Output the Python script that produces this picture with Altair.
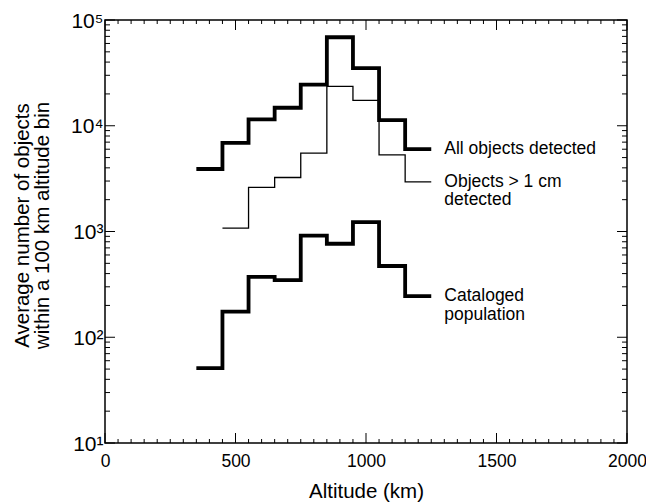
import altair as alt
import pandas as pd

# ---- data ----
edges = [350, 450, 550, 650, 750, 850, 950, 1050, 1150, 1250]
all_objects = [3900, 6900, 11500, 14800, 24500, 68700, 35100, 11300, 6000]
cm_edges = [450, 550, 650, 750, 850, 950, 1050, 1150, 1250]
objects_1cm = [1075, 2610, 3240, 5500, 23600, 17400, 5300, 2950]
cataloged = [51, 175, 372, 347, 913, 766, 1225, 472, 245]

label_text = ["All objects detected", "Objects > 1 cm", "detected", "Cataloged", "population"]
label_x = [1300, 1300, 1300, 1300, 1300]
label_y = [6000, 2950, 1970, 245, 164]

x_major = [0, 500, 1000, 1500, 2000]
x_minor = [v for v in range(50, 2000, 50) if v % 500 != 0]
y_major = [10, 100, 1000, 10000, 100000]
y_minor = [m * 10 ** e for e in range(1, 5) for m in range(2, 10)]

FONT = "Liberation Sans"
W, H = 522, 423


def steps(name, e, vals):
    rows = [{"series": name, "alt": e[i], "val": v} for i, v in enumerate(vals)]
    rows.append({"series": name, "alt": e[len(vals)], "val": vals[-1]})
    return rows


df = pd.DataFrame(
    steps("all", edges, all_objects)
    + steps("cm", cm_edges, objects_1cm)
    + steps("cat", edges, cataloged)
)
labels = pd.DataFrame({"text": label_text, "alt": label_x, "val": label_y})

xs = alt.Scale(domain=[0, 2000], nice=False, zero=False)
ys = alt.Scale(type="log", domain=[10, 100000], nice=False)

x_axis = alt.Axis(
    orient="bottom", values=x_major, ticks=False, domain=False, grid=False,
    format="d", labelFontSize=17.5, labelFont=FONT, labelColor="black",
    labelPadding=9, labelFlush=False, labelOverlap=False,
    title="Altitude (km)", titleFont=FONT, titleFontSize=20.5,
    titleFontWeight="normal", titleColor="black", titlePadding=12,
)

y_axis = alt.Axis(
    orient="left", values=y_major, ticks=False, domain=False, grid=False,
    labelExpr="'10' + ['⁰','¹','²','³','⁴','⁵'][round(log(datum.value)/LN10)]",
    labelFontSize=21, labelFont=FONT, labelColor="black", labelPadding=2,
    labelOffset=1, labelFlush=False, labelOverlap=False,
    title=["Average number of objects", "within a 100 km altitude bin"],
    titleFont=FONT, titleFontSize=20.5, titleFontWeight="normal",
    titleColor="black", titlePadding=18, titleLineHeight=20, titleY=205,
)

lines = alt.Chart(df).mark_line(interpolate="step-after", color="black").encode(
    x=alt.X("alt:Q", scale=xs, axis=x_axis),
    y=alt.Y("val:Q", scale=ys, axis=y_axis),
    detail="series:N",
    strokeWidth=alt.condition(alt.datum.series == "cm", alt.value(1.3), alt.value(3.8)),
)


def xtick_layer(values, size, edge, sign):
    return alt.Chart(pd.DataFrame({"v": values})).mark_tick(
        orient="vertical", size=size, thickness=1, color="black",
        yOffset=sign * size / 2, opacity=1,
    ).encode(x=alt.X("v:Q", scale=xs), y=alt.YDatum(edge))


def ytick_layer(values, size, edge, sign):
    return alt.Chart(pd.DataFrame({"v": values})).mark_tick(
        orient="horizontal", size=size, thickness=1, color="black",
        xOffset=sign * size / 2, opacity=1,
    ).encode(y=alt.Y("v:Q", scale=ys), x=alt.XDatum(edge))


ticks = [
    xtick_layer(x_minor, 4, 10, -1), xtick_layer(x_major, 10, 10, -1),
    xtick_layer(x_minor, 4, 100000, 1), xtick_layer(x_major, 10, 100000, 1),
    ytick_layer(y_minor, 5, 0, 1), ytick_layer(y_major, 10, 0, 1),
    ytick_layer(y_minor, 5, 2000, -1), ytick_layer(y_major, 10, 2000, -1),
]

text = alt.Chart(labels).mark_text(
    align="left", baseline="middle", fontSize=17.5, font=FONT, color="black"
).encode(
    x=alt.X("alt:Q", scale=xs),
    y=alt.Y("val:Q", scale=ys),
    text="text:N",
)

chart = alt.layer(lines, *ticks, text).properties(
    width=W, height=H,
    autosize=alt.AutoSizeParams(type="none"),
    padding={"left": 105, "top": 20, "right": 19, "bottom": 61},
    background="white",
).configure_view(stroke="black", strokeWidth=1.5)

chart.save("out.html", embed_options={"renderer": "svg", "actions": False})
